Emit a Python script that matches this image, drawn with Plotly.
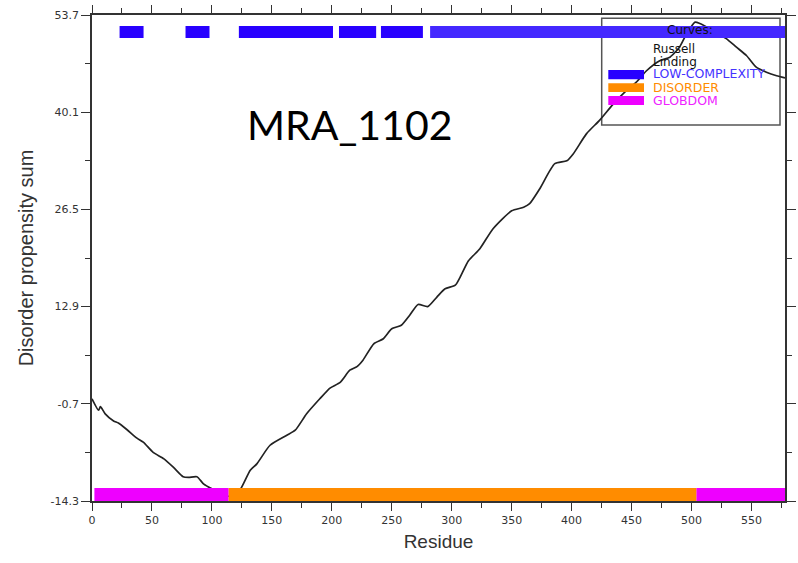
import plotly.graph_objects as go

# ---- data ----
residue = [0, 5.5, 7, 11, 18, 22, 29, 37.5, 43, 51, 60, 68, 76, 80.5, 87.5, 93, 100,
           105, 112, 118, 124, 132, 137.5, 148.5, 162.5, 169.5, 179, 190, 198.5, 207,
           215, 221, 226, 235, 243, 250, 258, 265, 272, 280, 287.5, 294.5, 303, 307,
           314, 323.5, 334.5, 350, 360, 365, 373.5, 386, 396, 401.5, 412.5, 423.5,
           434.5, 445, 454, 462.5, 473.5, 482, 490, 496, 503, 507, 518, 529, 537.5,
           546, 554, 562.5, 571, 578]
propensity = [0.0, -1.6, -1.1, -2.1, -3.1, -3.4, -4.3, -5.5, -6.1, -7.5, -8.4, -9.6,
              -10.9, -11.0, -10.9, -11.9, -12.6, -13.0, -13.6, -13.5, -12.6, -10.0,
              -9.1, -6.5, -5.1, -4.4, -2.1, 0.0, 1.5, 2.3, 4.0, 4.5, 5.4, 7.7, 8.4,
              9.8, 10.3, 11.7, 13.2, 12.9, 14.2, 15.4, 15.9, 17.0, 19.3, 21.0, 23.8,
              26.3, 26.8, 27.3, 29.4, 32.9, 33.3, 34.3, 37.1, 39.0, 41.2, 43.0, 44.3,
              45.9, 47.3, 47.8, 49.2, 51.1, 52.7, 52.5, 51.5, 50.4, 49.2, 48.0, 46.4,
              45.7, 45.2, 44.9]

lowcomp_start = [23, 78, 122.5, 206, 241, 282]
lowcomp_end = [43, 98, 201, 237, 276, 578]
lowcomp_level = 51.32

region_start = [2, 114, 504]
region_end = [114, 504, 578]
region_kind = ["GLOBDOM", "DISORDER", "GLOBDOM"]
region_level = -13.39

y_ticks = [-14.3, -0.7, 12.9, 26.5, 40.1, 53.7]
y_labels = ["-14.3", "-0.7", "12.9", "26.5", "40.1", "53.7"]
x_ticks = [0, 50, 100, 150, 200, 250, 300, 350, 400, 450, 500, 550]

BLUE = "#2800ff"
BLUE_LIGHT = "#4428ff"
ORANGE = "#ff8c00"
MAGENTA = "#ee00ff"
kind_color = {"GLOBDOM": MAGENTA, "DISORDER": ORANGE}

W, H = 798, 563
ML, MR, MT, MB = 92, 13, 15, 62
PW, PH = W - ML - MR, H - MT - MB


def px(x):
    return (x - ML) / PW


def py(y):
    return (H - MB - y) / PH


fig = go.Figure()

# curve (drawn first, so the bars cover it)
fig.add_trace(go.Scatter(x=residue, y=propensity, mode="lines",
                         line=dict(color="#222222", width=1.7, shape="spline", smoothing=0.6),
                         hoverinfo="skip"))


def segment_trace(starts, ends, level, color, width):
    xs, ys = [], []
    for s, e in zip(starts, ends):
        xs += [s, e, None]
        ys += [level, level, None]
    return go.Scatter(x=xs, y=ys, mode="lines", line=dict(color=color, width=width),
                      hoverinfo="skip")


# low-complexity segments
fig.add_trace(segment_trace(lowcomp_start[:-1], lowcomp_end[:-1], lowcomp_level, BLUE, 12))
fig.add_trace(segment_trace(lowcomp_start[-1:], lowcomp_end[-1:], lowcomp_level, BLUE_LIGHT, 12))

# disorder / globdom regions
for kind in ["GLOBDOM", "DISORDER"]:
    ss = [s for s, k in zip(region_start, region_kind) if k == kind]
    ee = [e for e, k in zip(region_end, region_kind) if k == kind]
    fig.add_trace(segment_trace(ss, ee, region_level, kind_color[kind], 13))

tickfont = dict(family="DejaVu Sans", size=11, color="#333333")

fig.update_layout(
    width=W, height=H,
    margin=dict(l=ML, r=MR, t=MT, b=MB, autoexpand=False),
    paper_bgcolor="white", plot_bgcolor="white",
    showlegend=False,
    xaxis=dict(range=[0, 578], tickvals=x_ticks, ticks="outside", ticklen=8,
               tickcolor="#333", mirror="ticks", showline=True, linecolor="#333",
               linewidth=1.5, showgrid=False, zeroline=False, tickfont=tickfont,
               automargin=False,
               minor=dict(dtick=25, tick0=0, ticks="outside", ticklen=5, tickcolor="#333"),
               title=dict(text="Residue", font=dict(family="Liberation Sans", size=19, color="#333"),
                          standoff=9)),
    yaxis=dict(range=[-14.3, 53.7], tickvals=y_ticks, ticktext=y_labels, ticks="outside",
               ticklen=9, tickcolor="#333", mirror="ticks", showline=True, linecolor="#333",
               linewidth=1.5, showgrid=False, zeroline=False, tickfont=tickfont,
               automargin=False,
               minor=dict(dtick=6.8, tick0=-14.3, ticks="outside", ticklen=5, tickcolor="#333"),
               title=dict(text="Disorder propensity sum",
                          font=dict(family="Liberation Sans", size=20, color="#333"), standoff=12)),
)

# legend box
fig.add_shape(type="rect", xref="paper", yref="paper", x0=px(601.7), x1=px(780),
              y0=py(125), y1=py(18.3), line=dict(color="#555555", width=1.5), layer="below")
fig.add_annotation(text="Curves:", xref="paper", yref="paper", x=px(690), y=py(30),
                   xanchor="center", yanchor="middle", showarrow=False,
                   font=dict(family="DejaVu Sans", size=12, color="#111"))
for txt, yy in [("Russell", 49.3), ("Linding", 61.7)]:
    fig.add_annotation(text=txt, xref="paper", yref="paper", x=px(651), y=py(yy),
                       xanchor="left", yanchor="middle", showarrow=False,
                       font=dict(family="DejaVu Sans", size=12, color="#111"))
for name, col, tcol, y0, y1, yt in [("LOW-COMPLEXITY", BLUE, "#4433ff", 70, 79.3, 73.8),
                                    ("DISORDER", ORANGE, ORANGE, 83.3, 92, 87.5),
                                    ("GLOBDOM", MAGENTA, "#ee22ff", 96, 105, 100.3)]:
    fig.add_shape(type="rect", xref="paper", yref="paper", x0=px(608.3), x1=px(644),
                  y0=py(y1), y1=py(y0), fillcolor=col, line=dict(width=0))
    fig.add_annotation(text=name, xref="paper", yref="paper", x=px(651), y=py(yt),
                       xanchor="left", yanchor="middle", showarrow=False,
                       font=dict(family="DejaVu Sans", size=12.5, color=tcol))

fig.add_annotation(text="MRA_1102", xref="paper", yref="paper", x=px(349), y=py(124),
                   xanchor="center", yanchor="middle", showarrow=False,
                   font=dict(family="Lato", size=41, color="black"))

fig.write_html("out.html")
